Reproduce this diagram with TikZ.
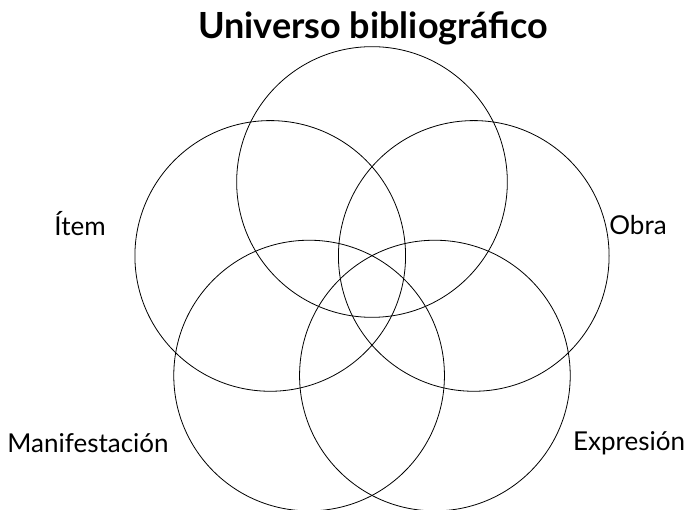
\documentclass[tikz,border=0pt]{standalone}
\usepackage{fontspec}
\setmainfont{Lato}
\usetikzlibrary{calc}
\tikzset{setcircle/.style={circle,draw,line width=0.6pt,minimum size=203pt,inner sep=0pt},
  setlabel/.style={font=\fontsize{19.5}{22}\selectfont}}

\begin{document}
\begin{tikzpicture}[x=0.75pt,y=0.75pt]
      \useasboundingbox (0,0) rectangle (693,510);
      \coordinate (mid) at (372,221);
      \foreach \name/\ang in {universo/90,item/162,manif/234,expr/306,obra/18}
        \node[setcircle] (\name) at ($(mid)+(\ang:107)$) {};
      \node[font=\fontsize{27}{30}\selectfont\bfseries] (title) at (373,482) {Universo bibliográfico};
      \node[setlabel] (litem) at (80,286) {Ítem};
      \node[setlabel] (lobra) at (638,285) {Obra};
      \node[setlabel] (lmanif) at (88,67) {Manifestación};
      \node[setlabel] (lexpr) at (629,67) {Expresión};
    \end{tikzpicture}
\end{document}
